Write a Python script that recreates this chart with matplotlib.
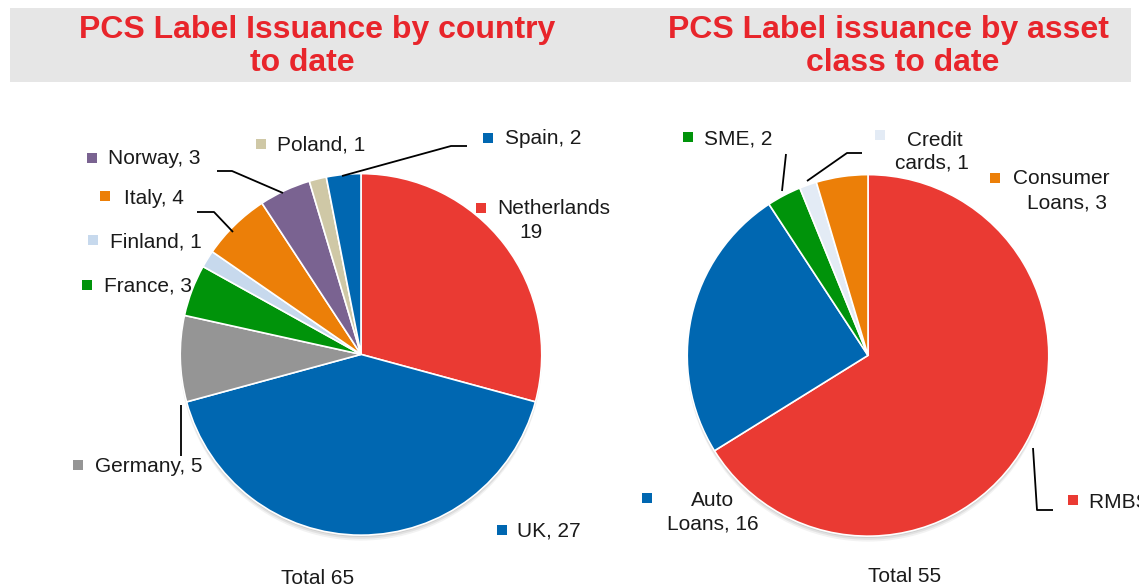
import matplotlib
matplotlib.use("Agg")
import matplotlib.pyplot as plt
from matplotlib.patches import Rectangle, Circle

# ---------------- data ----------------
country_names = ["Netherlands", "UK", "Germany", "France", "Finland",
                 "Italy", "Norway", "Poland", "Spain"]
country_values = [19, 27, 5, 3, 1, 4, 3, 1, 2]
country_labels = ["Netherlands\n19", "UK, 27", "Germany, 5", "France, 3",
                  "Finland, 1", "Italy, 4", "Norway, 3", "Poland, 1", "Spain, 2"]

asset_names = ["RMBS", "Auto Loans", "SME", "Credit cards", "Consumer Loans"]
asset_values = [43, 16, 2, 1, 3]
asset_labels = ["RMBS, 43", "Auto\nLoans, 16", "SME, 2", "Credit\ncards, 1",
                "Consumer\nLoans, 3"]

title_left = "PCS Label Issuance by country\nto date"
title_right = "PCS Label issuance by asset\nclass to date"
total_left = "Total 65"
total_right = "Total 55"

# ---------------- styles ----------------
RED = "#EA3A33"
BLUE = "#0067B1"
GRAY = "#959595"
GREEN = "#00930A"
LBLUE = "#C7D9ED"
ORANGE = "#EC7F08"
PURPLE = "#7A6391"
BEIGE = "#CFC8A6"
PALE = "#E3EBF5"
country_colors = [RED, BLUE, GRAY, GREEN, LBLUE, ORANGE, PURPLE, BEIGE, BLUE]
asset_colors = [RED, BLUE, GREEN, PALE, ORANGE]

W, H = 1139, 587
plt.rcParams["font.family"] = ["Liberation Sans", "DejaVu Sans"]
fig = plt.figure(figsize=(W / 100, H / 100), dpi=100)

def pie_axes(cx, cy, r):
    ax = fig.add_axes([(cx - r) / W, (H - cy - r) / H, 2 * r / W, 2 * r / H])
    ax.set_xlim(-1, 1)
    ax.set_ylim(-1, 1)
    ax.set_aspect("equal")
    ax.axis("off")
    return ax

def draw_pie(ax, values, colors):
    # soft shadow
    for k, a in [(0.030, 0.10), (0.020, 0.14), (0.010, 0.18)]:
        ax.add_patch(Circle((0, -k), 1.0, color="#808080", alpha=a, lw=0, zorder=0))
    ax.pie(values, colors=colors, startangle=90, counterclock=False, radius=1.0,
           wedgeprops=dict(edgecolor="white", linewidth=1.2), frame=False)
    ax.set_xlim(-1.02, 1.02)
    ax.set_ylim(-1.06, 1.02)

axL = pie_axes(361, 358, 188)
draw_pie(axL, country_values, country_colors)
axR = pie_axes(868, 359, 188)
draw_pie(axR, asset_values, asset_colors)

# overlay in pixel coordinates
ov = fig.add_axes([0, 0, 1, 1], zorder=10)
ov.set_xlim(0, W)
ov.set_ylim(H, 0)
ov.axis("off")
ov.patch.set_alpha(0)

ov.add_patch(Rectangle((10, 8), 1121, 74, color="#E6E6E6", lw=0, zorder=0))
tkw = dict(color="#E8252B", fontsize=23, fontweight="bold", ha="center",
           va="center", zorder=2)

def title(text, line_xy):
    for line, (x, y) in zip(text.split("\n"), line_xy):
        ov.text(x, y, line, **tkw)

title(title_left, [(317, 30), (302, 63)])
title(title_right, [(888, 30), (903, 63)])

LFS = 15

def label(text, color, marker_xy, lines_xy):
    mx, my = marker_xy
    ov.add_patch(Rectangle((mx - 5, my - 5), 10, 10, color=color, lw=0, zorder=3))
    for line, (x, y, ha) in zip(text.split("\n"), lines_xy):
        ov.text(x, y, line, fontsize=LFS, ha=ha, va="center", color="#1a1a1a", zorder=3)

# left pie label layout
left_layout = {
    "Netherlands": ((481, 208), [(497, 209, "left"), (531, 232, "center")]),
    "UK": ((502, 530), [(517, 531, "left")]),
    "Germany": ((78, 465), [(95, 466, "left")]),
    "France": ((87, 285), [(104, 286, "left")]),
    "Finland": ((93, 240), [(110, 242, "left")]),
    "Italy": ((105, 196), [(124, 198, "left")]),
    "Norway": ((92, 158), [(108, 159, "left")]),
    "Poland": ((261, 144), [(277, 145, "left")]),
    "Spain": ((488, 138), [(505, 139, "left")]),
}
for name, lab, col in zip(country_names, country_labels, country_colors):
    m, ls = left_layout[name]
    label(lab, col, m, ls)

right_layout = {
    "RMBS": ((1073, 500), [(1089, 502, "left")]),
    "Auto Loans": ((647, 498), [(713, 500, "center"), (713, 524, "center")]),
    "SME": ((688, 137), [(704, 139, "left")]),
    "Credit cards": ((880, 135), [(935, 140, "center"), (932, 163, "center")]),
    "Consumer Loans": ((995, 178), [(1061, 179, "center"), (1067, 203, "center")]),
}
for name, lab, col in zip(asset_names, asset_labels, asset_colors):
    m, ls = right_layout[name]
    label(lab, col, m, ls)

# leader lines
lkw = dict(color="black", lw=1.3, zorder=4, solid_capstyle="butt")
ov.plot([467, 451, 342], [146, 146, 176], **lkw)      # Spain
ov.plot([217, 232, 283], [171, 171, 193], **lkw)      # Norway
ov.plot([197, 214, 233], [212, 212, 232], **lkw)      # Italy
ov.plot([181, 181], [405, 456], **lkw)                # Germany
ov.plot([786, 782], [154, 191], **lkw)                # SME
ov.plot([862, 847, 807], [153, 153, 181], **lkw)      # Credit cards
ov.plot([1033, 1037, 1053], [448, 510, 510], **lkw)   # RMBS

ov.text(318, 578, total_left, fontsize=LFS, ha="center", va="center", color="#1a1a1a")
ov.text(905, 577, total_right, fontsize=LFS, ha="center", va="center", color="#1a1a1a")

fig.savefig("out.png", dpi=100)
